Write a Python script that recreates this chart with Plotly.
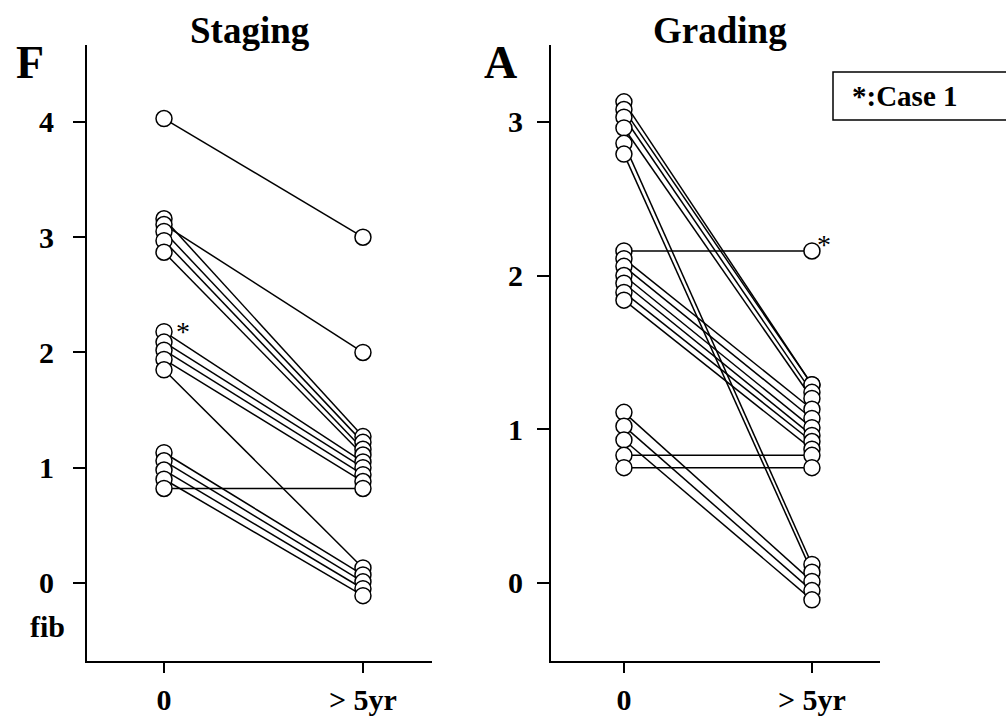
import plotly.graph_objects as go

W, H = 1006, 718

# Fibrosis staging (F): score at baseline (0) and after more than 5 years
stage_before = [4.03, 3.16, 3.11, 3.05, 2.97, 2.87, 2.18, 2.09, 2.02, 1.94, 1.85,
                1.13, 1.06, 0.98, 0.90, 0.82]
stage_after = [3.00, 1.27, 2.00, 1.22, 1.16, 1.11, 1.05, 1.00, 0.94, 0.88, 0.13,
               0.07, 0.01, -0.05, -0.11, 0.82]
stage_case1 = 6

# Activity grading (A): score at baseline (0) and after more than 5 years
grade_before = [3.13, 3.08, 3.03, 2.96, 2.86, 2.79, 2.16, 2.11, 2.06, 2.00, 1.95,
                1.89, 1.84, 1.11, 1.02, 0.93, 0.83, 0.75]
grade_after = [1.29, 1.29, 1.24, 1.20, 0.12, 0.07, 2.16, 1.13, 1.07, 1.01, 0.96,
               0.92, 0.87, 0.01, -0.05, -0.11, 0.83, 0.75]
grade_case1 = 6

time_points = [0, 1]
time_labels = ["0", "> 5yr"]
stage_ticks = [0, 1, 2, 3, 4]
grade_ticks = [0, 1, 2, 3]

SERIF = "Liberation Serif, Times New Roman, serif"


def px_x(p):
    return p / W


def px_y(p):
    return 1 - p / H


def add_panel(fig, before, after, xa, ya):
    lx, ly = [], []
    for b, a in zip(before, after):
        lx += [time_points[0], time_points[1], None]
        ly += [b, a, None]
    # all connecting lines first, so circles sit on top of every line
    fig.add_trace(go.Scatter(x=lx, y=ly, mode="lines", xaxis=xa, yaxis=ya,
                             line=dict(color="black", width=1.5),
                             hoverinfo="skip"))
    fig.add_trace(go.Scatter(
        x=[time_points[0]] * len(before) + [time_points[1]] * len(after),
        y=list(before) + list(after), mode="markers", xaxis=xa, yaxis=ya,
        marker=dict(symbol="circle", size=16, color="white",
                    line=dict(color="black", width=1.5))))


fig = go.Figure()
add_panel(fig, stage_before, stage_after, "x", "y")
add_panel(fig, grade_before, grade_after, "x2", "y2")

tickfont = dict(family=SERIF, size=30, color="black", weight="bold")
common_x = dict(showline=True, linewidth=2, linecolor="black", ticks="outside",
                ticklen=10, tickwidth=1.5, tickcolor="black", showgrid=False,
                zeroline=False, tickvals=time_points, ticktext=time_labels,
                tickfont=tickfont, ticklabelstandoff=1, fixedrange=True)
common_y = dict(showline=True, linewidth=2, linecolor="black", ticks="outside",
                ticklen=12, tickwidth=1.5, tickcolor="black", showgrid=False,
                zeroline=False, tickfont=tickfont, fixedrange=True)

ydom = [px_y(661), px_y(45)]
fig.update_layout(
    width=W, height=H, margin=dict(l=0, r=0, t=0, b=0),
    paper_bgcolor="white", plot_bgcolor="white", showlegend=False,
    xaxis=dict(domain=[px_x(87), px_x(432)], range=[-0.387, 1.347],
               anchor="y", **common_x),
    yaxis=dict(domain=ydom, range=[-0.677, 4.668], anchor="x",
               tickvals=stage_ticks, ticklabelstandoff=13, **common_y),
    xaxis2=dict(domain=[px_x(551), px_x(880)], range=[-0.388, 1.362],
                anchor="y2", **common_x),
    yaxis2=dict(domain=ydom, range=[-0.508, 3.50], anchor="x2",
                tickvals=grade_ticks, ticklabelstandoff=8, **common_y),
)


def label(text, x, y, size, **kw):
    fig.add_annotation(text=text, x=px_x(x), y=px_y(y), xref="paper",
                       yref="paper", showarrow=False, xanchor="center",
                       yanchor="middle",
                       font=dict(family=SERIF, size=size, color="black"), **kw)


label("<b>Staging</b>", 250, 30, 37)
label("<b>Grading</b>", 720, 30, 37)
label("<b>F</b>", 30, 62, 46)
label("<b>A</b>", 500, 62, 46)
label("<b>fib</b>", 47, 626, 30)

# case 1 markers
star_font = dict(family=SERIF, size=28, color="black")
fig.add_annotation(text="*", x=time_points[0], y=stage_before[stage_case1],
                   xref="x", yref="y", showarrow=False, xshift=19, yshift=0,
                   font=star_font)
fig.add_annotation(text="*", x=time_points[1], y=grade_after[grade_case1],
                   xref="x2", yref="y2", showarrow=False, xshift=12, yshift=6,
                   font=star_font)

# key box
fig.add_shape(type="rect", xref="paper", yref="paper",
              x0=px_x(833), x1=px_x(1012), y0=px_y(120), y1=px_y(72),
              line=dict(color="black", width=1.5), fillcolor="white")
fig.add_annotation(text="<b>*:Case 1</b>", x=px_x(850), y=px_y(96),
                   xref="paper", yref="paper", showarrow=False,
                   xanchor="left", yanchor="middle",
                   font=dict(family=SERIF, size=29, color="black"))

fig.write_html("out.html")
